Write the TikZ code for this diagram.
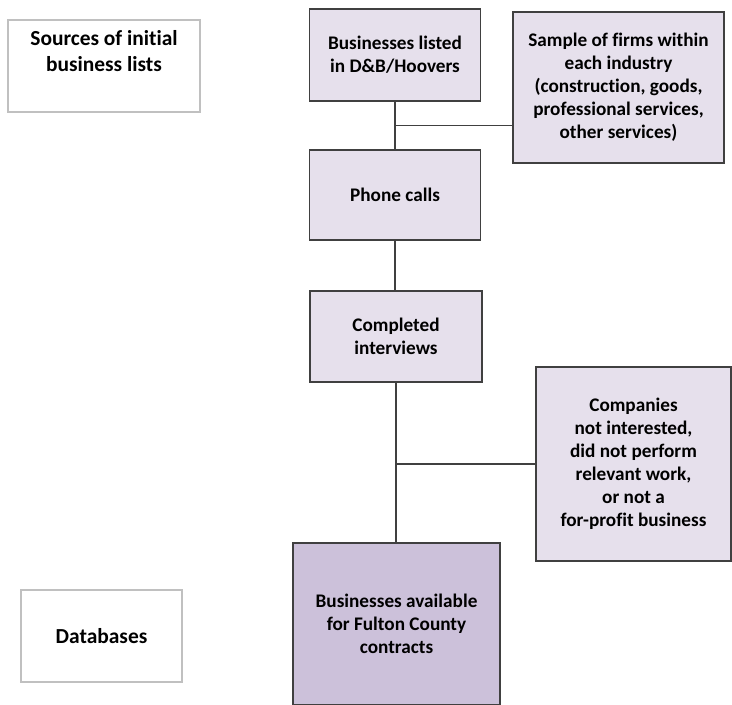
\documentclass[tikz,border=0pt]{standalone}
\usepackage{fontspec}
\setmainfont[Ligatures=NoCommon]{Carlito}
\usetikzlibrary{positioning,calc}
\definecolor{boxlav}{HTML}{E6E0EC}
\definecolor{boxdark}{HTML}{CCC1DA}
\definecolor{edgegray}{HTML}{404040}
\definecolor{lightedge}{HTML}{C0C0C0}
\tikzset{
  flowbox/.style={draw=edgegray,line width=1.3bp,fill=boxlav,align=center,
    font=\bfseries\fontsize{19.3}{23}\selectfont,inner sep=0pt},
  sidebox/.style={draw=lightedge,line width=1.4bp,fill=white,align=center,
    font=\bfseries\fontsize{21.5}{26}\selectfont,inner sep=0pt},
  link/.style={draw=edgegray,line width=1.3bp}
}
\begin{document}
\begin{tikzpicture}[x=1bp,y=-1bp]
  \useasboundingbox (0,0) rectangle (732,705);
  % left column
  \node[sidebox,minimum width=192bp,minimum height=92bp] (src) at (104,66) {};
    \node[font=\bfseries\fontsize{21.5}{26}\selectfont,align=center,anchor=north,inner sep=0pt]
      (srctext) at (104,30) {Sources of initial\\business lists};
  \node[sidebox,minimum width=161bp,minimum height=92bp] (db) at (101.5,636) {Databases};
  % main column
  \node[flowbox,minimum width=171bp,minimum height=92bp] (listed) at (395,55) {Businesses listed\\in D\&B/Hoovers};
  \node[flowbox,minimum width=211bp,minimum height=151bp] (sample) at (618.5,87.5)
    {Sample of firms within\\each industry\\(construction, goods,\\professional services,\\other services)};
  \node[flowbox,minimum width=171bp,minimum height=90bp] (phone) at (395,195) {Phone calls};
  \node[flowbox,minimum width=172bp,minimum height=91bp] (done) at (396,336.5) {Completed\\interviews};
  \node[flowbox,minimum width=195bp,minimum height=194bp] (drop) at (633.5,464)
    {Companies\\not interested,\\did not perform\\relevant work,\\or not a\\for-profit business};
  \node[flowbox,fill=boxdark,minimum width=207bp,minimum height=162bp] (avail) at (396.5,624)
    {Businesses available\\for Fulton County\\contracts};
  % connectors
  \draw[link] (listed.south) -- (phone.north);
  \coordinate (split1) at ($(listed.south)!0.5!(phone.north)$);
  \draw[link] (split1) -- (split1 -| sample.west);
  \draw[link] (phone.south) -- (phone.south |- done.north);
  \draw[link] (done.south) -- (done.south |- avail.north);
  \draw[link] (drop.west -| done.south) -- (drop.west);
\end{tikzpicture}
\end{document}
